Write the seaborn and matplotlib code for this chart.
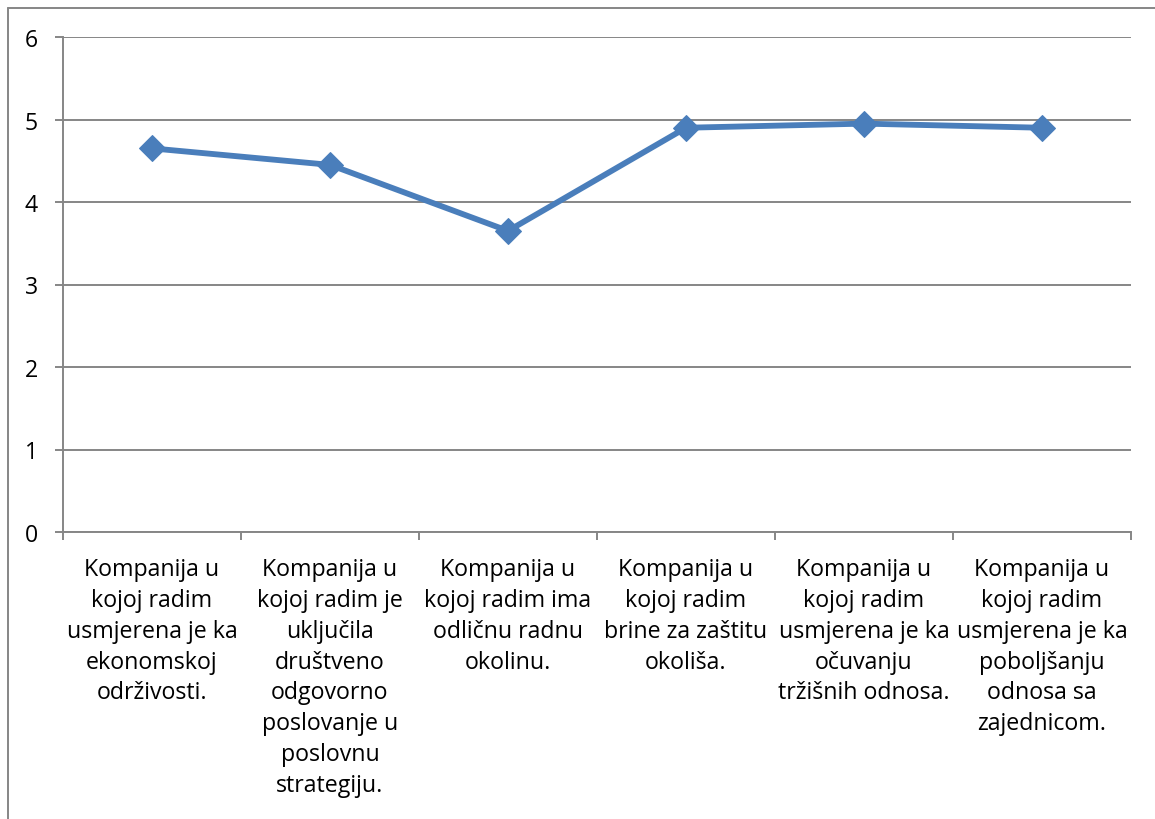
import matplotlib
matplotlib.use("Agg")
import matplotlib.pyplot as plt
import matplotlib.ticker as mticker
import pandas as pd
import seaborn as sns

CATEGORIES = [
    "Kompanija u\nkojoj radim\nusmjerena je ka\nekonomskoj\nodrživosti.",
    "Kompanija u\nkojoj radim je\nuključila\ndruštveno\nodgovorno\nposlovanje u\nposlovnu\nstrategiju.",
    "Kompanija u\nkojoj radim ima\nodličnu radnu\nokolinu.",
    "Kompanija u\nkojoj radim\nbrine za zaštitu\nokoliša.",
    "Kompanija u\nkojoj radim\nusmjerena je ka\nočuvanju\ntržišnih odnosa.",
    "Kompanija u\nkojoj radim\nusmjerena je ka\npoboljšanju\nodnosa sa\nzajednicom.",
]
SCORES = [4.65, 4.45, 3.65, 4.90, 4.95, 4.90]
Y_TICKS = [0, 1, 2, 3, 4, 5, 6]

LINE = "#4A7EBB"
GRID = "#868686"
INK = "#000000"

sns.set_theme(style="white")
plt.rcParams["font.family"] = ["Open Sans", "DejaVu Sans"]

df = pd.DataFrame({"item": CATEGORIES, "score": SCORES})
df["pos"] = range(len(df))

fig = plt.figure(figsize=(11.55, 8.2), dpi=100)
ax = fig.add_axes([63 / 1155, 1 - 533 / 820, (1131 - 63) / 1155, (533 - 38) / 820])

sns.lineplot(
    data=df, x="pos", y="score", ax=ax,
    color=LINE, linewidth=4.2, marker="D", markersize=13,
    markeredgecolor=LINE, markerfacecolor=LINE,
)

ax.set_xlim(-0.5, len(CATEGORIES) - 0.5)
ax.set_ylim(0, 6)
ax.set_yticks(Y_TICKS)
ax.set_xticks(range(len(CATEGORIES)))
ax.set_xticklabels(CATEGORIES, fontsize=16.7, color=INK, linespacing=1.38, va="top")
ax.xaxis.set_minor_locator(mticker.FixedLocator([i - 0.5 for i in range(len(CATEGORIES) + 1)]))
ax.tick_params(axis="x", which="major", length=0, pad=18)
ax.tick_params(axis="x", which="minor", length=6, width=1.4, color=GRID, direction="out", bottom=True)
ax.tick_params(axis="y", which="major", length=6, width=1.4, color=GRID, direction="out",
               left=True, pad=12, labelsize=16.7, labelcolor=INK)
ax.set_xlabel("")
ax.set_ylabel("")

ax.yaxis.grid(True, color=GRID, linewidth=1.4)
ax.xaxis.grid(False)
for side in ("top", "right"):
    ax.spines[side].set_visible(False)
for side in ("left", "bottom"):
    ax.spines[side].set_color(GRID)
    ax.spines[side].set_linewidth(1.4)

# chart frame (cropped on the right and bottom)
fx, fy = 8 / 1155, 1 - 9 / 820
fig.add_artist(plt.Line2D([fx, fx], [0, fy], transform=fig.transFigure, color=GRID, linewidth=1.4))
fig.add_artist(plt.Line2D([fx, 1], [fy, fy], transform=fig.transFigure, color=GRID, linewidth=1.4))

fig.savefig("out.png", dpi=100, facecolor="white")
